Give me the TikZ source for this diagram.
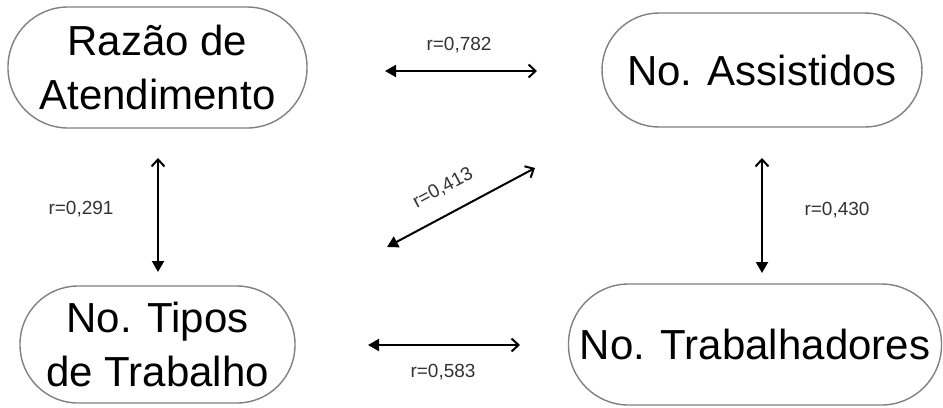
\documentclass[tikz,border=0pt]{standalone}
\usepackage{fontspec}
\setmainfont{Liberation Sans}
\usetikzlibrary{arrows.meta}
\begin{document}
\begin{tikzpicture}[x=1bp,y=-1bp,
  blob/.style={draw=black!50, line width=1.4bp, align=center, inner sep=0pt,
    font=\fontsize{42bp}{54bp}\selectfont},
  rel/.style={line width=2bp, {Triangle[length=11bp,width=12bp]}-{Straight Barb[length=7bp,width=13bp,line width=2bp]}},
  lab/.style={text=black!80, font=\fontsize{19bp}{22bp}\selectfont, inner sep=0pt}]
\useasboundingbox (0,0) rectangle (943,407);
% nodes as stadium shapes
\node[blob, minimum width=299bp, minimum height=121bp, rounded corners=60bp] (raz) at (157.5,67.5) {Razão de\\Atendimento};
\node[blob, minimum width=320bp, minimum height=114bp, rounded corners=57bp] (ass) at (762,70) {No. Assistidos};
\node[blob, minimum width=275bp, minimum height=117bp, rounded corners=58bp] (tip) at (157.5,344.5) {No. Tipos\\de Trabalho};
\node[blob, minimum width=373bp, minimum height=121bp, rounded corners=60bp] (tra) at (755,344.5) {No. Trabalhadores};
% arrow endpoints
\coordinate (a1) at (385,71);  \coordinate (b1) at (537,71);
\coordinate (a2) at (387,247); \coordinate (b2) at (535,168);
\coordinate (a3) at (158,272); \coordinate (b3) at (158,158);
\coordinate (a4) at (762,273); \coordinate (b4) at (762,158);
\coordinate (a5) at (368,345); \coordinate (b5) at (520,345);
\draw[rel] (a1) -- (b1);
\draw[rel] (a2) -- (b2);
\draw[rel] (a3) -- (b3);
\draw[rel] (a4) -- (b4);
\draw[rel] (a5) -- (b5);
% labels
\node[lab] (l1) at (459,45) {r=0,782};
\node[lab, rotate=28] (l2) at (443,188) {r=0,413};
\node[lab] (l3) at (81,209) {r=0,291};
\node[lab] (l4) at (837,210) {r=0,430};
\node[lab] (l5) at (443,372) {r=0,583};
\end{tikzpicture}
\end{document}
